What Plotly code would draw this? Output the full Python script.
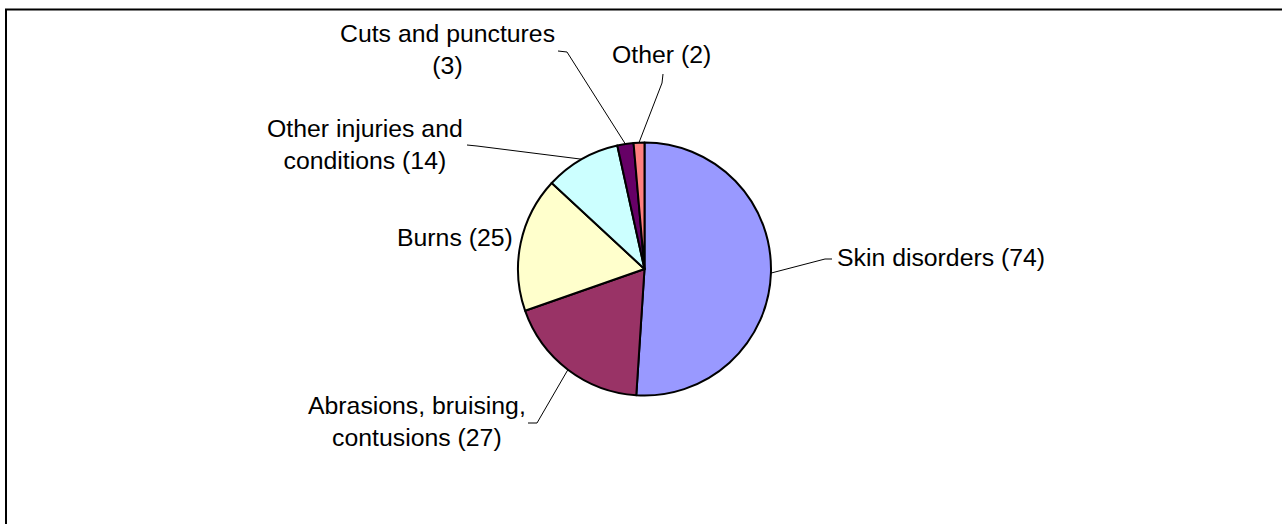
import math
import plotly.graph_objects as go

# ---- data ----
categories = ["Skin disorders", "Abrasions, bruising, contusions", "Burns",
              "Other injuries and conditions", "Cuts and punctures", "Other"]
values = [74, 27, 25, 14, 3, 2]
label_texts = ["Skin disorders (74)", "Abrasions, bruising,<br>contusions (27)", "Burns (25)",
               "Other injuries and<br>conditions (14)", "Cuts and punctures<br>(3)", "Other (2)"]
colors = ["#9999FF", "#993366", "#FFFFCC", "#CCFFFF", "#660066", "#FF8080"]

# ---- layout constants (pixels) ----
W, H = 1282, 524
CX, CY, R = 644.5, 269.0, 126.5
FONT = "Liberation Sans, Arial, sans-serif"
FS = 24.8

# label placement: (x, y, xanchor) and leader path end points (elbow, end) or None
label_pos = [
    (835, 257, "left"),
    (417, 421, "center"),
    (515, 237, "right"),
    (365, 144, "center"),
    (447, 49, "center"),
    (661, 54, "center"),
]
leader_pts = [
    ((825, 259), (832, 259)),
    ((537, 423), (528, 423)),
    None,
    ((477, 146), (467, 145)),
    ((567, 52), (558, 51)),
    ((662, 83), (663, 74)),
]

fig = go.Figure()
fig.add_trace(go.Pie(
    labels=categories, values=values, sort=False, direction="clockwise", rotation=0,
    marker=dict(colors=colors, line=dict(color="black", width=2)),
    textinfo="none", hoverinfo="label+value", showlegend=False,
    domain=dict(x=[(CX - R) / W, (CX + R) / W], y=[(H - CY - R) / H, (H - CY + R) / H]),
))

# invisible pixel axes for labels and leader lines
fig.add_trace(go.Scatter(x=[0, W], y=[0, H], mode="markers", marker=dict(opacity=0),
                         hoverinfo="skip", showlegend=False))

total = sum(values)
cum = 0
shapes = []
annotations = []
for i, v in enumerate(values):
    mid = (cum + v / 2) / total * 2 * math.pi
    cum += v
    ex = CX + R * math.sin(mid)
    ey = CY - R * math.cos(mid)
    if leader_pts[i] is not None:
        (bx, by), (tx, ty) = leader_pts[i]
        shapes.append(dict(type="path", xref="x", yref="y",
                           path=f"M {ex:.1f},{ey:.1f} L {bx},{by} L {tx},{ty}",
                           line=dict(color="black", width=1)))
    lx, ly, anc = label_pos[i]
    annotations.append(dict(x=lx, y=ly, xref="x", yref="y", text=label_texts[i],
                            showarrow=False, xanchor=anc, yanchor="middle", align="center",
                            font=dict(family=FONT, size=FS, color="black")))

# chart border
shapes.append(dict(type="rect", xref="x", yref="y", x0=6, y0=9.5, x1=W + 10, y1=H + 10,
                   line=dict(color="black", width=2), layer="above"))

fig.update_layout(
    width=W, height=H, margin=dict(l=0, r=0, t=0, b=0),
    paper_bgcolor="white", plot_bgcolor="rgba(0,0,0,0)",
    xaxis=dict(range=[0, W], visible=False, fixedrange=True),
    yaxis=dict(range=[H, 0], visible=False, fixedrange=True),
    shapes=shapes, annotations=annotations,
)

fig.write_html("out.html", config={"displayModeBar": False},
               post_script="document.body.style.margin='0';document.body.style.overflow='hidden';")
